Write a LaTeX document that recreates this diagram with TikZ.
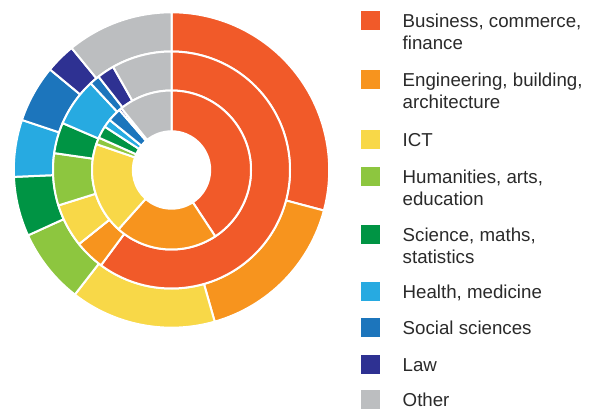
\documentclass[tikz,border=0pt]{standalone}
\usepackage{fontspec}
\setmainfont{Liberation Sans}
\definecolor{cBus}{HTML}{F15A29}
\definecolor{cEng}{HTML}{F7941E}
\definecolor{cICT}{HTML}{F8D848}
\definecolor{cHum}{HTML}{8DC63F}
\definecolor{cSci}{HTML}{009444}
\definecolor{cHea}{HTML}{27AAE1}
\definecolor{cSoc}{HTML}{1C75BC}
\definecolor{cLaw}{HTML}{2E3192}
\definecolor{cOth}{HTML}{BCBEC0}
\definecolor{txt}{HTML}{2A2A2A}
\newcommand\ringslice[5]{%
  \filldraw[fill=#1, draw=white, line width=2pt, line join=round]
    (#2:#4pt) arc[start angle=#2, end angle=#3, radius=#4pt]
    -- (#3:#5pt) arc[start angle=#3, end angle=#2, radius=#5pt] -- cycle;}
\tikzset{
  legsq/.style={fill=#1, draw=none, minimum size=19pt, inner sep=0pt, anchor=north west},
  legtxt/.style={anchor=base west, inner sep=0pt, align=left, text=txt,
    font=\fontsize{18.7pt}{22pt}\selectfont}
}
\begin{document}
\begin{tikzpicture}[x=1pt,y=1pt]
\useasboundingbox (0,0) rectangle (595,410);
\fill[white] (0,0) rectangle (595,410);
\begin{scope}[shift={(171.5,240)}]
  % outer ring
  \foreach \c/\a/\b in {cBus/90/-14.9, cEng/-14.9/-74.1, cICT/-74.1/-127.8,
      cHum/-127.8/-155.5, cSci/-155.5/-177.5, cHea/-177.5/-198.5,
      cSoc/-198.5/-219.6, cLaw/-219.6/-230.7, cOth/-230.7/-270}
    {\ringslice{\c}{\a}{\b}{118.5}{157.7}}
  % middle ring
  \foreach \c/\a/\b in {cBus/90/-126.5, cEng/-126.5/-141.3, cICT/-141.3/-162.6,
      cHum/-162.6/-188.2, cSci/-188.2/-203.3, cHea/-203.3/-227,
      cSoc/-227/-232, cLaw/-232/-240.5, cOth/-240.5/-270}
    {\ringslice{\c}{\a}{\b}{79.5}{118.5}}
  % inner ring
  \foreach \c/\a/\b in {cBus/90/-56.6, cEng/-56.6/-131.8, cICT/-131.8/-199,
      cHum/-199/-204, cSci/-204/-213, cHea/-213/-219,
      cSoc/-219/-229, cLaw/-229/-231, cOth/-231/-270}
    {\ringslice{\c}{\a}{\b}{38.7}{79.5}}
\end{scope}
% legend (\n = number of extra lines below the first)
\foreach \c/\t/\n/\l in {cBus/11/1/{Business, commerce,\\finance},
    cEng/70/1/{Engineering, building,\\architecture},
    cICT/130/0/{ICT},
    cHum/167/1/{Humanities, arts,\\education},
    cSci/225/1/{Science, maths,\\statistics},
    cHea/282/0/{Health, medicine},
    cSoc/318/0/{Social sciences},
    cLaw/355/0/{Law},
    cOth/390/0/{Other}}
  {\node[legsq=\c] (sq-\c) at (361,410-\t) {};
   \node[legtxt] (lg-\c) at (402.5,410-\t-17-22*\n) {\l};}
\end{tikzpicture}
\end{document}
